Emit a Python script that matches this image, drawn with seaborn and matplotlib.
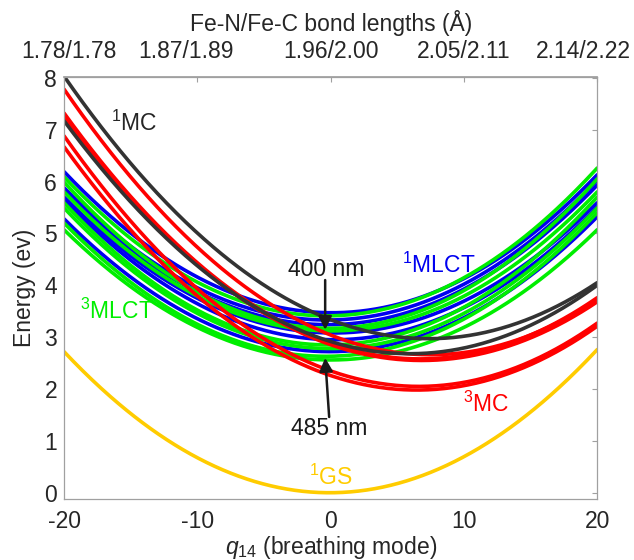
import numpy as np
import pandas as pd
import seaborn as sns
import matplotlib
matplotlib.use("Agg")
import matplotlib.pyplot as plt
import matplotlib.transforms as mtransforms

# energies (eV): at q14 = -20, at the well bottom, at q14 = +20
gs_left = [2.72]
gs_min = [0.00]
gs_right = [2.76]

mc1_left = [8.03, 7.17]
mc1_min = [2.97, 2.68]
mc1_right = [4.05, 4.00]

mc3_left = [7.78, 7.32, 7.24, 6.88, 6.67]
mc3_min = [2.66, 2.58, 2.55, 2.05, 1.98]
mc3_right = [3.72, 3.76, 3.68, 3.27, 3.21]

mlct1_left = [6.19, 5.88, 5.82, 5.70, 5.65, 5.28]
mlct1_min = [3.47, 3.33, 3.24, 3.08, 2.95, 2.72]
mlct1_right = [6.13, 6.02, 5.93, 5.59, 5.50, 5.32]

mlct3_left = [6.09, 5.99, 5.80, 5.59, 5.49, 5.20, 5.07]
mlct3_min = [3.41, 3.17, 3.12, 2.85, 2.78, 2.63, 2.56]
mlct3_right = [6.26, 6.05, 5.80, 5.70, 5.49, 5.40, 5.07]

top_ticks = [-20, -10, 0, 10, 20]
top_labels = ["1.78/1.78", "1.87/1.89", "1.96/2.00", "2.05/2.11", "2.14/2.22"]

colors = {"1MLCT": "#0000f0", "3MLCT": "#00ee00", "3MC": "#ff0000",
          "1MC": "#333333", "1GS": "#ffcc00"}
states = {
    "1MLCT": (mlct1_left, mlct1_min, mlct1_right),
    "3MLCT": (mlct3_left, mlct3_min, mlct3_right),
    "3MC": (mc3_left, mc3_min, mc3_right),
    "1MC": (mc1_left, mc1_min, mc1_right),
    "1GS": (gs_left, gs_min, gs_right),
}

# harmonic wells through the three read values
q = np.linspace(-20, 20, 401)
rows = []
for name, (lefts, mins, rights) in states.items():
    for i, (l, e0, r) in enumerate(zip(lefts, mins, rights)):
        a, b = np.sqrt(l - e0), np.sqrt(r - e0)
        k = ((a + b) / 40) ** 2
        q0 = 20 * (a - b) / (a + b)
        for qq in q:
            rows.append((name, f"{name}_{i}", qq, e0 + k * (qq - q0) ** 2))
df = pd.DataFrame(rows, columns=["state", "curve", "q", "E"])

sns.set_theme(style="white")
plt.rcParams["font.family"] = ["Liberation Sans", "DejaVu Sans"]
plt.rcParams["mathtext.fontset"] = "custom"
plt.rcParams["mathtext.rm"] = "Liberation Sans"
plt.rcParams["mathtext.it"] = "Liberation Sans:italic"
plt.rcParams["mathtext.default"] = "regular"
plt.rcParams["axes.unicode_minus"] = False
fs = 16.5
plt.rcParams["font.size"] = fs

fig = plt.figure(figsize=(6.34, 5.6), dpi=100)
ax = fig.add_axes([0.101, 0.109, 0.841, 0.754])

for name in states:
    sns.lineplot(data=df[df.state == name], x="q", y="E", units="curve",
                 estimator=None, color=colors[name], linewidth=2.6, ax=ax)

ax.set_xlim(-20, 20)
ax.set_ylim(-0.12, 8.02)
ax.set_xticks([-20, -10, 0, 10, 20])
ax.set_yticks(range(0, 9))

grey = "#a0a0a0"
txt = "#262626"
for s in ax.spines.values():
    s.set_color(grey)
    s.set_linewidth(0.9)
ax.tick_params(axis="x", direction="in", length=3.5, width=0.8, color=grey,
               labelcolor=txt, labelsize=fs, pad=8, top=False)
ax.tick_params(axis="y", direction="in", length=3.5, width=0.8, color=grey,
               labelcolor=txt, labelsize=fs, pad=5, right=True)
ax.set_xlabel(r"$\mathit{q}_{14}$ (breathing mode)", fontsize=fs, color=txt, labelpad=1)
ax.set_ylabel("Energy (ev)", fontsize=fs, color=txt, labelpad=6)

secax = ax.secondary_xaxis("top")
secax.set_xticks(top_ticks, labels=top_labels)
secax.spines["top"].set_color(grey)
secax.tick_params(direction="in", length=3.5, width=0.8, color=grey,
                  labelcolor=txt, labelsize=fs, pad=10)
secax.set_xlabel("Fe-N/Fe-C bond lengths (Å)", fontsize=fs, color=txt, labelpad=6)
for lab, dx in zip(secax.get_xticklabels(), [5, -11, 0, 0, -14]):
    lab.set_transform(lab.get_transform() +
                      mtransforms.ScaledTranslation(dx / 100, 0, fig.dpi_scale_trans))

ax.text(-16.5, 7.13, r"$^{1}$MC", color=txt, va="center", fontsize=fs)
ax.text(5.37, 4.39, r"$^{1}$MLCT", color=colors["1MLCT"], va="center", fontsize=fs)
ax.text(-18.8, 3.49, r"$^{3}$MLCT", color=colors["3MLCT"], va="center", fontsize=fs)
ax.text(9.9, 1.70, r"$^{3}$MC", color=colors["3MC"], va="center", fontsize=fs)
ax.text(-1.6, 0.29, r"$^{1}$GS", color=colors["1GS"], va="center", fontsize=fs)
ax.text(-0.34, 4.30, "400 nm", color="k", ha="center", va="center", fontsize=fs)
ax.text(-0.10, 1.23, "485 nm", color="k", ha="center", va="center", fontsize=fs)

arrow = dict(arrowstyle="-|>", color="k", lw=1.8, mutation_scale=20,
             shrinkA=0, shrinkB=0)
ax.annotate("", xy=(-0.41, 3.14), xytext=(-0.41, 4.10), arrowprops=arrow)
ax.annotate("", xy=(-0.41, 2.60), xytext=(-0.11, 1.46), arrowprops=arrow)

fig.savefig("out.png", dpi=100)
